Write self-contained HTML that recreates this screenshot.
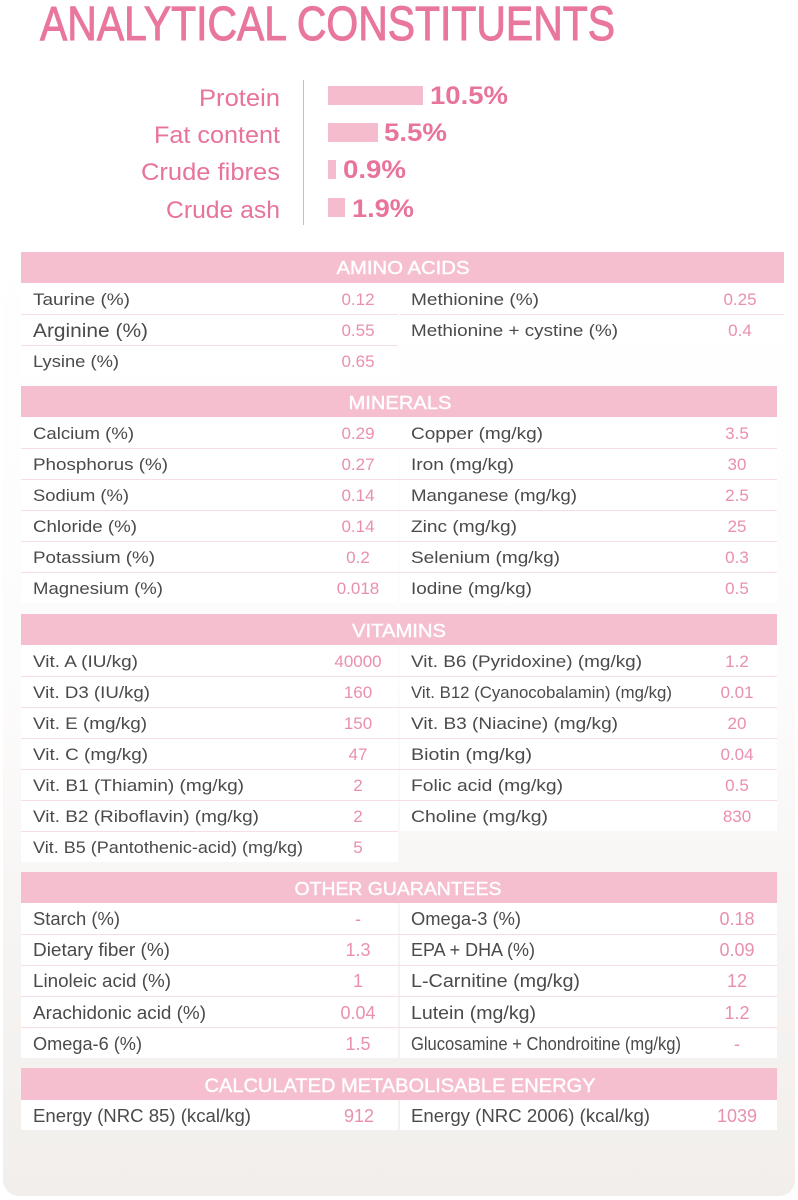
<!DOCTYPE html>
<html><head><meta charset="utf-8"><style>
html,body{margin:0;padding:0;background:#fff;}
svg{display:block;}
.lb{font-family:"Liberation Sans",sans-serif;font-size:17px;fill:#4a4a4a;}
.lc{font-family:"Liberation Sans",sans-serif;font-size:18px;fill:#4a4a4a;}
.v{font-family:"Liberation Sans",sans-serif;font-size:17px;fill:#e98fb0;text-anchor:middle;}
.vc{font-family:"Liberation Sans",sans-serif;font-size:18px;fill:#e98fb0;text-anchor:middle;}
.h{font-family:"Liberation Sans",sans-serif;font-size:18px;fill:#fff;text-anchor:middle;stroke:#fff;stroke-width:0.4;}
.bl{font-family:"Liberation Sans",sans-serif;font-size:24px;fill:#e8739c;}
.bv{font-family:"Liberation Sans",sans-serif;font-size:25px;font-weight:bold;fill:#e8739c;}
</style></head><body>
<svg width="798" height="1200" viewBox="0 0 798 1200" xmlns="http://www.w3.org/2000/svg">
<defs>
<linearGradient id="bg" x1="0" y1="0" x2="0" y2="1">
<stop offset="0" stop-color="#ffffff"/>
<stop offset="0.45" stop-color="#fdfcfc"/>
<stop offset="1" stop-color="#f1eeeb"/>
</linearGradient>
</defs>
<rect x="0" y="0" width="798" height="1200" fill="#fff"/>
<rect x="3" y="230" width="792" height="966" rx="16" fill="url(#bg)"/>

<!-- Title -->
<text x="40" y="40" font-family="Liberation Sans, sans-serif" font-size="48" fill="#e9769e" stroke="#e9769e" stroke-width="1" textLength="575" lengthAdjust="spacingAndGlyphs">ANALYTICAL CONSTITUENTS</text>

<!-- Bar chart -->
<rect x="303" y="80" width="1" height="145" fill="#f0a8c0"/>
<text class="bl" x="199" y="106" textLength="81" lengthAdjust="spacingAndGlyphs">Protein</text>
<text class="bl" x="154" y="143" textLength="126" lengthAdjust="spacingAndGlyphs">Fat content</text>
<text class="bl" x="141" y="180" textLength="139" lengthAdjust="spacingAndGlyphs">Crude fibres</text>
<text class="bl" x="166" y="218" textLength="114" lengthAdjust="spacingAndGlyphs">Crude ash</text>
<rect x="328" y="86" width="95" height="19" fill="#f5bccd"/>
<rect x="328" y="123" width="50" height="19" fill="#f5bccd"/>
<rect x="328" y="160" width="8" height="19" fill="#f5bccd"/>
<rect x="328" y="198" width="17" height="19" fill="#f5bccd"/>
<text class="bv" x="430" y="104" textLength="78" lengthAdjust="spacingAndGlyphs">10.5%</text>
<text class="bv" x="384" y="141" textLength="63" lengthAdjust="spacingAndGlyphs">5.5%</text>
<text class="bv" x="343" y="178" textLength="63" lengthAdjust="spacingAndGlyphs">0.9%</text>
<text class="bv" x="352" y="217" textLength="62" lengthAdjust="spacingAndGlyphs">1.9%</text>

<!-- AMINO ACIDS -->
<rect x="21" y="252" width="763" height="31" fill="#f5bfd0"/>
<text class="h" x="403" y="274" textLength="133" lengthAdjust="spacingAndGlyphs">AMINO ACIDS</text>
<g fill="#fff">
<rect x="21" y="283" width="377" height="93"/>
<rect x="400" y="283" width="384" height="62"/>
</g>
<g fill="#f6dde6">
<rect x="21" y="314" width="377" height="1"/><rect x="21" y="345" width="377" height="1"/>
<rect x="400" y="314" width="384" height="1"/>
</g>
<text class="lb" x="33" y="305" textLength="97" lengthAdjust="spacingAndGlyphs">Taurine (%)</text>
<text class="lb" x="33" y="337" textLength="115" lengthAdjust="spacingAndGlyphs" style="font-size:19px">Arginine (%)</text>
<text class="lb" x="33" y="367" textLength="86" lengthAdjust="spacingAndGlyphs">Lysine (%)</text>
<text class="lb" x="411" y="305" textLength="128" lengthAdjust="spacingAndGlyphs">Methionine (%)</text>
<text class="lb" x="411" y="336" textLength="207" lengthAdjust="spacingAndGlyphs">Methionine + cystine (%)</text>
<text class="v" x="358" y="305">0.12</text>
<text class="v" x="358" y="336">0.55</text>
<text class="v" x="358" y="367">0.65</text>
<text class="v" x="740" y="305">0.25</text>
<text class="v" x="740" y="336">0.4</text>

<!-- MINERALS -->
<rect x="21" y="386" width="756" height="31" fill="#f5bfd0"/>
<text class="h" x="400" y="409" textLength="103" lengthAdjust="spacingAndGlyphs">MINERALS</text>
<g fill="#fff">
<rect x="21" y="417" width="377" height="186"/>
<rect x="400" y="417" width="377" height="186"/>
</g>
<g fill="#f6dde6">
<rect x="21" y="448" width="756" height="1"/>
<rect x="21" y="479" width="756" height="1"/>
<rect x="21" y="510" width="756" height="1"/>
<rect x="21" y="541" width="756" height="1"/>
<rect x="21" y="572" width="756" height="1"/>
</g>
<text class="lb" x="33" y="439" textLength="101" lengthAdjust="spacingAndGlyphs">Calcium (%)</text>
<text class="lb" x="33" y="470" textLength="135" lengthAdjust="spacingAndGlyphs">Phosphorus (%)</text>
<text class="lb" x="33" y="501" textLength="96" lengthAdjust="spacingAndGlyphs">Sodium (%)</text>
<text class="lb" x="33" y="532" textLength="104" lengthAdjust="spacingAndGlyphs">Chloride (%)</text>
<text class="lb" x="33" y="563" textLength="122" lengthAdjust="spacingAndGlyphs">Potassium (%)</text>
<text class="lb" x="33" y="594" textLength="130" lengthAdjust="spacingAndGlyphs">Magnesium (%)</text>
<text class="lb" x="411" y="439" textLength="132" lengthAdjust="spacingAndGlyphs">Copper (mg/kg)</text>
<text class="lb" x="411" y="470" textLength="103" lengthAdjust="spacingAndGlyphs">Iron (mg/kg)</text>
<text class="lb" x="411" y="501" textLength="166" lengthAdjust="spacingAndGlyphs">Manganese (mg/kg)</text>
<text class="lb" x="411" y="532" textLength="106" lengthAdjust="spacingAndGlyphs">Zinc (mg/kg)</text>
<text class="lb" x="411" y="563" textLength="149" lengthAdjust="spacingAndGlyphs">Selenium (mg/kg)</text>
<text class="lb" x="411" y="594" textLength="121" lengthAdjust="spacingAndGlyphs">Iodine (mg/kg)</text>
<text class="v" x="358" y="439">0.29</text>
<text class="v" x="358" y="470">0.27</text>
<text class="v" x="358" y="501">0.14</text>
<text class="v" x="358" y="532">0.14</text>
<text class="v" x="358" y="563">0.2</text>
<text class="v" x="358" y="594">0.018</text>
<text class="v" x="737" y="439">3.5</text>
<text class="v" x="737" y="470">30</text>
<text class="v" x="737" y="501">2.5</text>
<text class="v" x="737" y="532">25</text>
<text class="v" x="737" y="563">0.3</text>
<text class="v" x="737" y="594">0.5</text>

<!-- VITAMINS -->
<rect x="21" y="614" width="756" height="31" fill="#f5bfd0"/>
<text class="h" x="399" y="637" textLength="94" lengthAdjust="spacingAndGlyphs">VITAMINS</text>
<g fill="#fff">
<rect x="21" y="645" width="377" height="217"/>
<rect x="400" y="645" width="377" height="186"/>
</g>
<g fill="#f6dde6">
<rect x="21" y="676" width="756" height="1"/>
<rect x="21" y="707" width="756" height="1"/>
<rect x="21" y="738" width="756" height="1"/>
<rect x="21" y="769" width="756" height="1"/>
<rect x="21" y="800" width="756" height="1"/>
<rect x="21" y="831" width="377" height="1"/>
</g>
<text class="lb" x="33" y="667" textLength="105" lengthAdjust="spacingAndGlyphs">Vit. A (IU/kg)</text>
<text class="lb" x="33" y="698" textLength="117" lengthAdjust="spacingAndGlyphs">Vit. D3 (IU/kg)</text>
<text class="lb" x="33" y="729" textLength="114" lengthAdjust="spacingAndGlyphs">Vit. E (mg/kg)</text>
<text class="lb" x="33" y="760" textLength="115" lengthAdjust="spacingAndGlyphs">Vit. C (mg/kg)</text>
<text class="lb" x="33" y="791" textLength="211" lengthAdjust="spacingAndGlyphs">Vit. B1 (Thiamin) (mg/kg)</text>
<text class="lb" x="33" y="822" textLength="226" lengthAdjust="spacingAndGlyphs">Vit. B2 (Riboflavin) (mg/kg)</text>
<text class="lb" x="33" y="853" textLength="270" lengthAdjust="spacingAndGlyphs">Vit. B5 (Pantothenic-acid) (mg/kg)</text>
<text class="lb" x="411" y="667" textLength="231" lengthAdjust="spacingAndGlyphs">Vit. B6 (Pyridoxine) (mg/kg)</text>
<text class="lb" x="411" y="698" textLength="261" lengthAdjust="spacingAndGlyphs">Vit. B12 (Cyanocobalamin) (mg/kg)</text>
<text class="lb" x="411" y="729" textLength="207" lengthAdjust="spacingAndGlyphs">Vit. B3 (Niacine) (mg/kg)</text>
<text class="lb" x="411" y="760" textLength="121" lengthAdjust="spacingAndGlyphs">Biotin (mg/kg)</text>
<text class="lb" x="411" y="791" textLength="152" lengthAdjust="spacingAndGlyphs">Folic acid (mg/kg)</text>
<text class="lb" x="411" y="822" textLength="137" lengthAdjust="spacingAndGlyphs">Choline (mg/kg)</text>
<text class="v" x="358" y="667">40000</text>
<text class="v" x="358" y="698">160</text>
<text class="v" x="358" y="729">150</text>
<text class="v" x="358" y="760">47</text>
<text class="v" x="358" y="791">2</text>
<text class="v" x="358" y="822">2</text>
<text class="v" x="358" y="853">5</text>
<text class="v" x="737" y="667">1.2</text>
<text class="v" x="737" y="698">0.01</text>
<text class="v" x="737" y="729">20</text>
<text class="v" x="737" y="760">0.04</text>
<text class="v" x="737" y="791">0.5</text>
<text class="v" x="737" y="822">830</text>

<!-- OTHER GUARANTEES -->
<rect x="21" y="872" width="756" height="31" fill="#f5bfd0"/>
<text class="h" x="398" y="895" textLength="207" lengthAdjust="spacingAndGlyphs">OTHER GUARANTEES</text>
<g fill="#fff">
<rect x="21" y="903" width="377" height="155"/>
<rect x="400" y="903" width="377" height="155"/>
</g>
<g fill="#f6dde6">
<rect x="21" y="934" width="756" height="1"/>
<rect x="21" y="965" width="756" height="1"/>
<rect x="21" y="996" width="756" height="1"/>
<rect x="21" y="1027" width="756" height="1"/>
</g>
<text class="lc" x="33" y="925" textLength="87" lengthAdjust="spacingAndGlyphs">Starch (%)</text>
<text class="lc" x="33" y="956" textLength="137" lengthAdjust="spacingAndGlyphs">Dietary fiber (%)</text>
<text class="lc" x="33" y="987" textLength="138" lengthAdjust="spacingAndGlyphs">Linoleic acid (%)</text>
<text class="lc" x="33" y="1019" textLength="173" lengthAdjust="spacingAndGlyphs">Arachidonic acid (%)</text>
<text class="lc" x="33" y="1050" textLength="109" lengthAdjust="spacingAndGlyphs">Omega-6 (%)</text>
<text class="lc" x="411" y="925" textLength="110" lengthAdjust="spacingAndGlyphs">Omega-3 (%)</text>
<text class="lc" x="411" y="956" textLength="124" lengthAdjust="spacingAndGlyphs">EPA + DHA (%)</text>
<text class="lc" x="411" y="987" textLength="169" lengthAdjust="spacingAndGlyphs">L-Carnitine (mg/kg)</text>
<text class="lc" x="411" y="1019" textLength="125" lengthAdjust="spacingAndGlyphs">Lutein (mg/kg)</text>
<text class="lc" x="411" y="1050" textLength="270" lengthAdjust="spacingAndGlyphs">Glucosamine + Chondroitine (mg/kg)</text>
<text class="vc" x="358" y="925">-</text>
<text class="vc" x="358" y="956">1.3</text>
<text class="vc" x="358" y="987">1</text>
<text class="vc" x="358" y="1019">0.04</text>
<text class="vc" x="358" y="1050">1.5</text>
<text class="vc" x="737" y="925">0.18</text>
<text class="vc" x="737" y="956">0.09</text>
<text class="vc" x="737" y="987">12</text>
<text class="vc" x="737" y="1019">1.2</text>
<text class="vc" x="737" y="1050">-</text>

<!-- ENERGY -->
<rect x="21" y="1068" width="756" height="32" fill="#f5bfd0"/>
<text class="h" x="400" y="1092" style="font-size:19px" textLength="391" lengthAdjust="spacingAndGlyphs">CALCULATED METABOLISABLE ENERGY</text>
<g fill="#fff">
<rect x="21" y="1100" width="377" height="30"/>
<rect x="400" y="1100" width="377" height="30"/>
</g>
<text class="lc" x="33" y="1122" textLength="218" lengthAdjust="spacingAndGlyphs">Energy (NRC 85) (kcal/kg)</text>
<text class="lc" x="411" y="1122" textLength="239" lengthAdjust="spacingAndGlyphs">Energy (NRC 2006) (kcal/kg)</text>
<text class="vc" x="359" y="1122">912</text>
<text class="vc" x="737" y="1122">1039</text>
</svg>
</body></html>
